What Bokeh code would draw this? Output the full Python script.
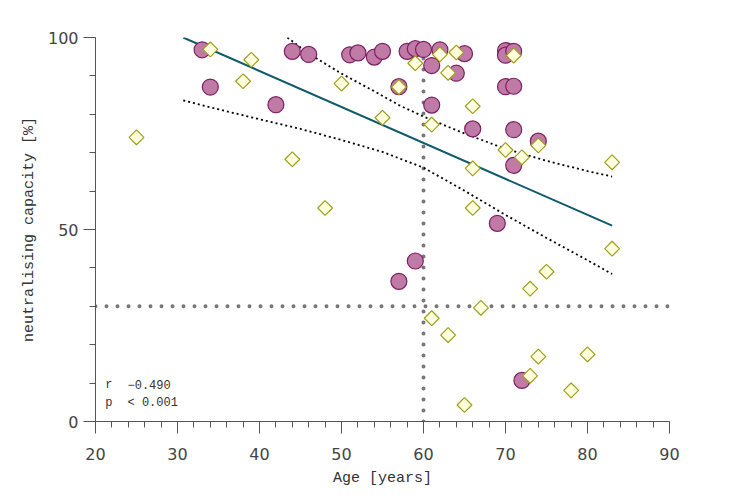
import numpy as np
from bokeh.plotting import figure
from bokeh.models import Range1d, FixedTicker, Label
from bokeh.embed import file_html
from bokeh.resources import INLINE

# ---- data ----
circle_age = [33, 34, 42, 44, 46, 51, 52, 54, 55, 57, 57, 58, 59, 59, 60, 61, 61, 62,
              64, 65, 66, 69, 70, 70, 70, 71, 71, 71, 71, 72, 74]
circle_val = [96.8, 87.1, 82.5, 96.4, 95.6, 95.5, 96.0, 94.9, 96.4, 87.2, 36.5, 96.4,
              97.1, 41.8, 96.9, 92.7, 82.4, 96.8, 90.7, 95.8, 76.2, 51.6, 96.6, 95.4,
              87.2, 96.4, 87.3, 76.0, 66.7, 10.7, 73.0]

diamond_age = [25, 34, 38, 39, 44, 48, 50, 55, 57, 59, 61, 61, 62, 63, 63, 64, 65, 66,
               66, 66, 67, 70, 71, 72, 73, 73, 74, 74, 75, 78, 80, 83, 83]
diamond_val = [74.0, 96.9, 88.6, 94.2, 68.3, 55.6, 88.0, 79.1, 87.1, 93.3, 77.3, 26.9,
               95.6, 90.8, 22.5, 96.1, 4.3, 82.1, 65.9, 55.6, 29.6, 70.7, 95.3, 68.8,
               34.6, 11.9, 71.9, 16.9, 39.0, 8.1, 17.5, 67.5, 45.0]

fit_x = [30.7, 83.0]
fit_y = [100.0, 51.0]

ci_upper_x = [43.4, 46, 50, 54, 57, 60, 65, 70, 75, 80, 83]
ci_upper_y = [100.0, 95.8, 90.6, 86.0, 82.4, 79.4, 75.0, 71.0, 67.9, 65.2, 63.8]
ci_lower_x = [30.7, 35, 40, 45, 50, 55, 60, 65, 70, 75, 80, 83]
ci_lower_y = [83.6, 81.3, 78.7, 76.2, 73.3, 70.2, 66.1, 60.1, 53.8, 47.8, 42.0, 38.4]

ref_age = 60
ref_val = 30

x_major = [20, 30, 40, 50, 60, 70, 80, 90]
y_major = [0, 50, 100]

stat_names = ["r", "p"]
stat_values = ["\u22120.490", "< 0.001"]

# ---- figure ----
p = figure(frame_width=574, frame_height=384,
           min_border_left=95, min_border_top=37, min_border_right=36, min_border_bottom=60,
           x_range=Range1d(20, 90), y_range=Range1d(0, 100),
           output_backend="svg", toolbar_location=None)
p.outline_line_color = None
p.xgrid.visible = False
p.ygrid.visible = False
p.background_fill_color = "white"
p.border_fill_color = "white"

p.xaxis.ticker = FixedTicker(ticks=x_major, minor_ticks=list(range(20, 91, 2)))
p.yaxis.ticker = FixedTicker(ticks=y_major, minor_ticks=list(range(0, 101, 10)))

for ax in (p.xaxis[0], p.yaxis[0]):
    ax.axis_line_color = "#555555"
    ax.major_tick_line_color = "#555555"
    ax.minor_tick_line_color = "#555555"
    ax.major_tick_out = 12
    ax.major_tick_in = 0
    ax.minor_tick_out = 6
    ax.minor_tick_in = 0
    ax.major_label_text_font = "DejaVu Sans"
    ax.major_label_text_font_size = "16px"
    ax.major_label_text_color = "#444444"
    ax.axis_label_text_font = "Liberation Mono"
    ax.axis_label_text_font_size = "15px"
    ax.axis_label_text_font_style = "normal"
    ax.axis_label_text_color = "#333333"

p.xaxis.axis_label = "Age [years]"
p.yaxis.axis_label = "neutralising capacity [%]"
p.xaxis.major_label_standoff = 14
p.yaxis.major_label_standoff = 5
p.xaxis.axis_label_standoff = 7
p.yaxis.axis_label_standoff = 7

# reference dotted lines
p.line([ref_age, ref_age], [0, 100], line_color="#777777", line_width=4,
       line_dash="0 11", line_cap="round")
p.line([20, 90], [ref_val, ref_val], line_color="#777777", line_width=4,
       line_dash="0 11", line_cap="round")

# CI and regression line
p.line(ci_upper_x, ci_upper_y, line_color="black", line_width=1.8, line_dash="2 3")
p.line(ci_lower_x, ci_lower_y, line_color="black", line_width=1.8, line_dash="2 3")
p.line(fit_x, fit_y, line_color="#0E5A6B", line_width=2)

# points
p.scatter(circle_age, circle_val, marker="circle", size=16,
          fill_color="#C07AA6", line_color="#7E1F63", line_width=1.2)
p.scatter(diamond_age, diamond_val, marker="square", size=10.5, angle=np.pi / 4,
          fill_color="#FFFFDD", line_color="#9E9E1A", line_width=1.2)

for name, val, yv in zip(stat_names, stat_values, (9.6, 4.7)):
    p.add_layout(Label(x=21.2, y=yv, text=name, text_font="Liberation Mono",
                       text_font_size="12px", text_color="#333333",
                       text_baseline="middle"))
    p.add_layout(Label(x=23.9, y=yv, text=val, text_font="Liberation Mono",
                       text_font_size="12px", text_color="#333333",
                       text_baseline="middle"))

open("out.html", "w").write(file_html(p, INLINE))
